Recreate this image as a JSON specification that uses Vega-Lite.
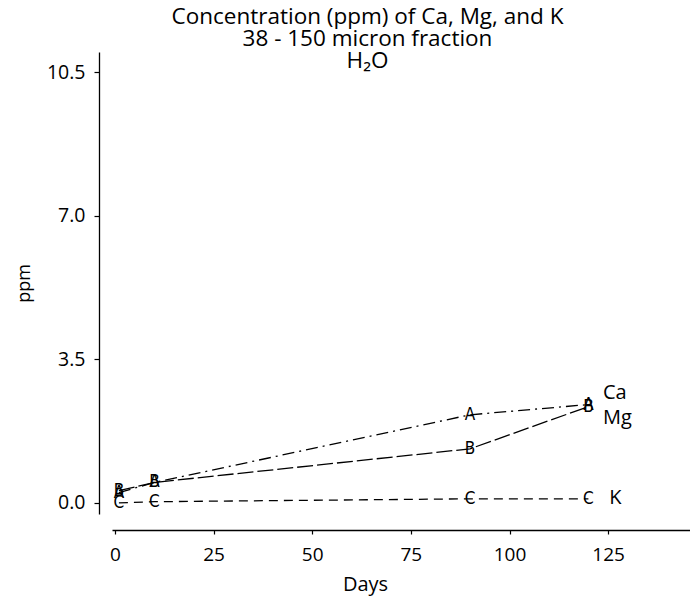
{
  "$schema": "https://vega.github.io/schema/vega-lite/v6.json",
  "width": 579,
  "height": 462,
  "autosize": {"type": "none"},
  "padding": {"left": 112, "top": 52, "right": 0, "bottom": 90},
  "background": "white",
  "config": {
    "view": {"stroke": null},
    "font": "Open Sans",
    "axis": {
      "grid": false,
      "domainColor": "black",
      "tickColor": "black",
      "labelColor": "black",
      "titleColor": "black",
      "titleFontWeight": "normal",
      "domainWidth": 1.3,
      "tickWidth": 1.2
    }
  },
  "title": {
    "text": ["Concentration (ppm) of Ca, Mg, and K", "38 - 150 micron fraction", "H₂O"],
    "fontSize": 22.5,
    "fontWeight": "normal",
    "lineHeight": 22,
    "anchor": "middle",
    "dx": -34,
    "offset": -20,
    "color": "black"
  },
  "datasets": {
    "pts": [
      {"series": "Ca", "marker": "A", "day": 1, "ppm": 0.25},
      {"series": "Ca", "marker": "A", "day": 10, "ppm": 0.5},
      {"series": "Ca", "marker": "A", "day": 90, "ppm": 2.15},
      {"series": "Ca", "marker": "A", "day": 120, "ppm": 2.4},
      {"series": "Mg", "marker": "B", "day": 1, "ppm": 0.3},
      {"series": "Mg", "marker": "B", "day": 10, "ppm": 0.5},
      {"series": "Mg", "marker": "B", "day": 90, "ppm": 1.32},
      {"series": "Mg", "marker": "B", "day": 120, "ppm": 2.35},
      {"series": "K", "marker": "C", "day": 1, "ppm": 0.0},
      {"series": "K", "marker": "C", "day": 10, "ppm": 0.03},
      {"series": "K", "marker": "C", "day": 90, "ppm": 0.1},
      {"series": "K", "marker": "C", "day": 120, "ppm": 0.1}
    ],
    "lbl": [
      {"label": "Ca", "day": 123.7, "ppm": 2.68},
      {"label": "Mg", "day": 123.7, "ppm": 2.07},
      {"label": "K", "day": 125.3, "ppm": 0.12}
    ]
  },
  "layer": [
    {
      "data": {"name": "pts"},
      "mark": {"type": "line", "color": "black", "strokeWidth": 1.3},
      "encoding": {
        "x": {
          "field": "day", "type": "quantitative",
          "scale": {"domain": [-0.75, 146], "nice": false, "zero": false},
          "axis": {
            "values": [0, 25, 50, 75, 100, 125],
            "offset": 16,
            "labelFontSize": 19,
            "tickSize": 4,
            "labelPadding": 11,
            "title": "Days",
            "titleFontSize": 20,
            "titlePadding": 10,
            "titleX": 253,
            "titleAnchor": "middle"
          }
        },
        "y": {
          "field": "ppm", "type": "quantitative",
          "scale": {"domain": [-0.27, 11.0], "nice": false, "zero": false},
          "axis": {
            "values": [0, 3.5, 7, 10.5],
            "format": ".1f",
            "offset": 13,
            "labelFontSize": 19.5,
            "tickSize": 5,
            "labelPadding": 9,
            "title": "ppm",
            "titleFontSize": 18,
            "titlePadding": 13
          }
        },
        "detail": {"field": "series"},
        "strokeDash": {
          "field": "series", "type": "nominal",
          "scale": {"domain": ["Ca", "Mg", "K"], "range": [[12, 5, 2, 5], [16, 4], [9, 6]]},
          "legend": null
        }
      }
    },
    {
      "data": {"name": "pts"},
      "mark": {"type": "text", "font": "DejaVu Sans Condensed", "fontSize": 17, "color": "black", "baseline": "middle", "align": "center"},
      "encoding": {
        "x": {"field": "day", "type": "quantitative"},
        "y": {"field": "ppm", "type": "quantitative"},
        "text": {"field": "marker"}
      }
    },
    {
      "data": {"name": "lbl"},
      "mark": {"type": "text", "fontSize": 20, "color": "black", "align": "left", "baseline": "middle"},
      "encoding": {
        "x": {"field": "day", "type": "quantitative"},
        "y": {"field": "ppm", "type": "quantitative"},
        "text": {"field": "label"}
      }
    }
  ]
}
